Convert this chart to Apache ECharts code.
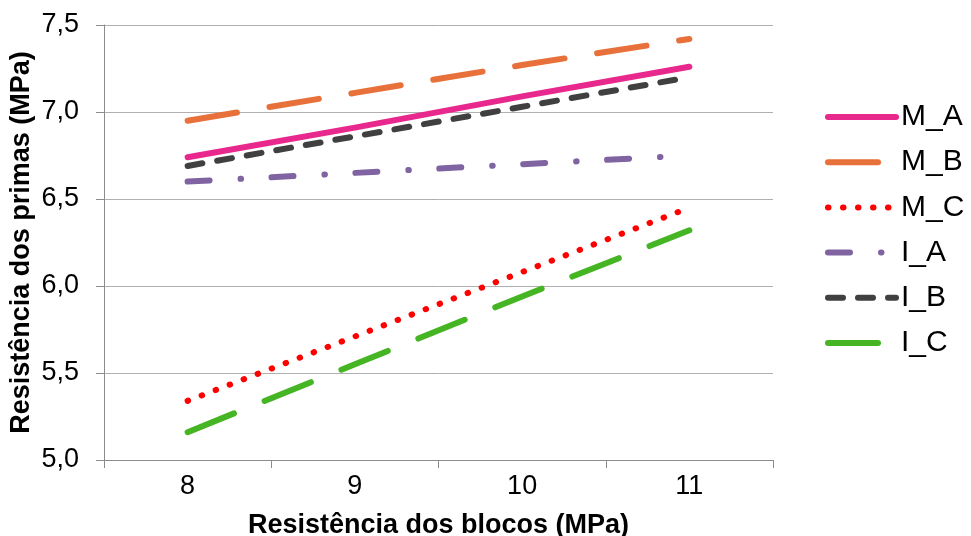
<!DOCTYPE html>
<html>
<head>
<meta charset="utf-8">
<script src="https://cdn.jsdelivr.net/npm/echarts@6/dist/echarts.min.js"></script>
<style>
  html, body { margin: 0; padding: 0; background: #ffffff; }
  #chart { width: 971px; height: 536px; }
</style>
</head>
<body>
<div id="chart"></div>
<script>
// Block strength categories (MPa)
const categories = ['8', '9', '10', '11'];

// Prism strength trend per mortar / block group (MPa)
const M_A = [6.74, 6.91, 7.09, 7.26];
const M_B = [6.95, 7.11, 7.27, 7.42];
const M_C = [5.34, 5.71, 6.08, 6.45];
const I_A = [6.60, 6.65, 6.70, 6.75];
const I_B = [6.69, 6.86, 7.03, 7.20];
const I_C = [5.16, 5.55, 5.94, 6.32];

const FONT = '"Liberation Sans", Arial, sans-serif';

function makeLine(name, values, color, dash) {
  return {
    name: name,
    type: 'line',
    data: values,
    symbol: 'none',
    showSymbol: false,
    silent: true,
    animation: false,
    itemStyle: { color: color },
    lineStyle: {
      color: color,
      width: 6,
      type: dash,
      cap: 'round',
      join: 'round'
    }
  };
}

const chart = echarts.init(document.getElementById('chart'), null, { renderer: 'canvas' });

chart.setOption({
  backgroundColor: '#ffffff',
  animation: false,
  grid: {
    left: 104, right: 198, top: 25, bottom: 76,
    containLabel: false,
    outerBoundsMode: 'none'
  },
  legend: {
    orient: 'vertical',
    left: 820,
    top: 97,
    padding: 5,
    itemWidth: 68,
    itemHeight: 22,
    itemGap: 15.2,
    itemStyle: { opacity: 0 },
    lineStyle: { width: 6 },
    textStyle: { fontFamily: FONT, fontSize: 30, color: '#000000' },
    data: ['M_A', 'M_B', 'M_C', 'I_A', 'I_B', 'I_C']
  },
  xAxis: {
    type: 'category',
    data: categories,
    boundaryGap: true,
    name: 'Resistência dos blocos (MPa)',
    nameLocation: 'middle',
    nameGap: 52,
    nameMoveOverlap: false,
    nameTextStyle: { fontFamily: FONT, fontSize: 27, fontWeight: 'bold', color: '#000000' },
    axisLine: { show: true, lineStyle: { color: '#8c8c8c', width: 1 } },
    axisTick: { show: true, length: 8, alignWithLabel: false, lineStyle: { color: '#8c8c8c' } },
    axisLabel: { fontFamily: FONT, fontSize: 27, color: '#000000', margin: 13 },
    splitLine: { show: false }
  },
  yAxis: {
    type: 'value',
    min: 5,
    max: 7.5,
    interval: 0.5,
    name: 'Resistência dos primas (MPa)',
    nameLocation: 'middle',
    nameGap: 69,
    nameMoveOverlap: false,
    nameTextStyle: { fontFamily: FONT, fontSize: 27, fontWeight: 'bold', color: '#000000' },
    axisLine: { show: true, lineStyle: { color: '#8c8c8c', width: 1 } },
    axisTick: { show: true, length: 8, lineStyle: { color: '#8c8c8c' } },
    axisLabel: {
      fontFamily: FONT, fontSize: 27, color: '#000000', margin: 25,
      formatter: function (v) { return v.toFixed(1).replace('.', ','); }
    },
    splitLine: { show: true, lineStyle: { color: '#b0b0b0', width: 1 } }
  },
  series: [
    makeLine('M_A', M_A, '#e8288c', 'solid'),
    makeLine('M_B', M_B, '#e8703a', [50, 33]),
    makeLine('M_C', M_C, '#ff0000', [0.5, 14.5]),
    makeLine('I_A', I_A, '#8064a2', [22, 31, 0.5, 30.5]),
    makeLine('I_B', I_B, '#404040', [15, 15]),
    makeLine('I_C', I_C, '#45b524', [50, 33])
  ]
});
</script>
</body>
</html>
